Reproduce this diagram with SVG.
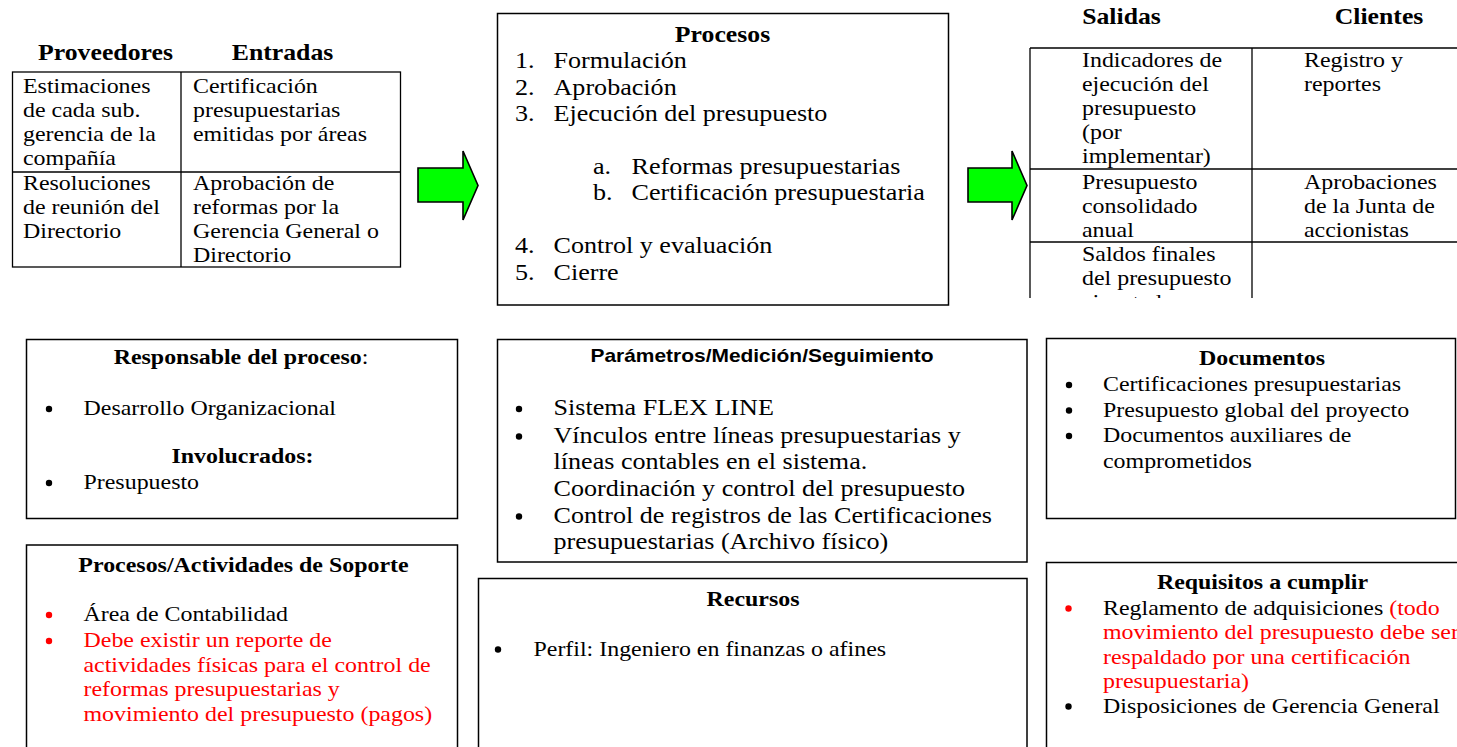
<svg xmlns="http://www.w3.org/2000/svg" width="1457" height="747" viewBox="0 0 1457 747">
  <defs>
    <style>
      text { font-family: "Liberation Serif", "Times New Roman", serif; fill: #000; font-size: 20.8px; }
      .big { font-size: 22.7px; }
      .hd { font-weight: bold; font-size: 22.4px; text-anchor: middle; }
      .hd2 { font-weight: bold; font-size: 20.8px; text-anchor: middle; }
      .sans { font-family: "Liberation Sans", Arial, sans-serif; font-weight: bold; font-size: 18.2px; text-anchor: middle; }
      .red { fill: #ff0000; }
      .norm { font-weight: normal; }
      .box { fill: #fff; stroke: #000; stroke-width: 1.5; }
      .grid { fill: none; stroke: #000; stroke-width: 1.3; }
      .arrow { fill: #00ff00; stroke: #000; stroke-width: 1.6; stroke-linejoin: miter; }
      .dot { fill: #000; }
      .dot.red { fill: #ff0000; }
    </style>
    <clipPath id="outClip">
      <rect x="1000" y="0" width="457" height="298"/>
    </clipPath>
  </defs>

  <rect x="0" y="0" width="1457" height="747" fill="#fff"/>

  <!-- Suppliers and inputs table -->
  <g id="proveedores-entradas">
    <text class="hd" transform="translate(105.5 60) scale(1.15 1)">Proveedores</text>
    <text class="hd" transform="translate(282.5 60) scale(1.15 1)">Entradas</text>
    <rect class="grid" x="12.5" y="72" width="388" height="195"/>
    <line class="grid" x1="181" y1="72" x2="181" y2="267"/>
    <line class="grid" x1="12.5" y1="172" x2="400.5" y2="172"/>
    <text transform="translate(23 93) scale(1.15 1)">Estimaciones</text>
    <text transform="translate(23 117) scale(1.15 1)">de cada sub.</text>
    <text transform="translate(23 141) scale(1.15 1)">gerencia de la</text>
    <text transform="translate(23 165) scale(1.15 1)">compañía</text>
    <text transform="translate(193 93) scale(1.15 1)">Certificación</text>
    <text transform="translate(193 117) scale(1.15 1)">presupuestarias</text>
    <text transform="translate(193 141) scale(1.15 1)">emitidas por áreas</text>
    <text transform="translate(23 190) scale(1.15 1)">Resoluciones</text>
    <text transform="translate(23 214) scale(1.15 1)">de reunión del</text>
    <text transform="translate(23 238) scale(1.15 1)">Directorio</text>
    <text transform="translate(193 190) scale(1.15 1)">Aprobación de</text>
    <text transform="translate(193 214) scale(1.15 1)">reformas por la</text>
    <text transform="translate(193 238) scale(1.15 1)">Gerencia General o</text>
    <text transform="translate(193 262) scale(1.15 1)">Directorio</text>
  </g>

  <!-- Process steps -->
  <g id="procesos">
    <rect class="box" x="497.5" y="13.5" width="451" height="291.5"/>
    <text class="hd" transform="translate(722.5 42) scale(1.15 1)">Procesos</text>
    <text class="big" transform="translate(515 68) scale(1.15 1)">1.</text>
    <text class="big" transform="translate(553.5 68) scale(1.15 1)">Formulación</text>
    <text class="big" transform="translate(515 94.5) scale(1.15 1)">2.</text>
    <text class="big" transform="translate(553.5 94.5) scale(1.15 1)">Aprobación</text>
    <text class="big" transform="translate(515 120.5) scale(1.15 1)">3.</text>
    <text class="big" transform="translate(553.5 120.5) scale(1.15 1)">Ejecución del presupuesto</text>
    <text class="big" transform="translate(593 173.5) scale(1.15 1)">a.</text>
    <text class="big" transform="translate(631.5 173.5) scale(1.15 1)">Reformas presupuestarias</text>
    <text class="big" transform="translate(593 200) scale(1.15 1)">b.</text>
    <text class="big" transform="translate(631.5 200) scale(1.15 1)">Certificación presupuestaria</text>
    <text class="big" transform="translate(515 253) scale(1.15 1)">4.</text>
    <text class="big" transform="translate(553.5 253) scale(1.15 1)">Control y evaluación</text>
    <text class="big" transform="translate(515 279.5) scale(1.15 1)">5.</text>
    <text class="big" transform="translate(553.5 279.5) scale(1.15 1)">Cierre</text>
  </g>

  <!-- Outputs and customers table -->
  <g id="salidas-clientes">
    <text class="hd" transform="translate(1121.5 24) scale(1.15 1)">Salidas</text>
    <text class="hd" transform="translate(1379 24) scale(1.15 1)">Clientes</text>
    <g clip-path="url(#outClip)">
      <line class="grid" x1="1030" y1="48" x2="1457" y2="48"/>
      <line class="grid" x1="1030" y1="48" x2="1030" y2="300"/>
      <line class="grid" x1="1252" y1="48" x2="1252" y2="300"/>
      <line class="grid" x1="1030" y1="169" x2="1457" y2="169"/>
      <line class="grid" x1="1030" y1="242" x2="1457" y2="242"/>
      <text transform="translate(1082 67) scale(1.15 1)">Indicadores de</text>
      <text transform="translate(1082 91) scale(1.15 1)">ejecución del</text>
      <text transform="translate(1082 115) scale(1.15 1)">presupuesto</text>
      <text transform="translate(1082 139) scale(1.15 1)">(por</text>
      <text transform="translate(1082 163) scale(1.15 1)">implementar)</text>
      <text transform="translate(1082 189) scale(1.15 1)">Presupuesto</text>
      <text transform="translate(1082 213) scale(1.15 1)">consolidado</text>
      <text transform="translate(1082 237) scale(1.15 1)">anual</text>
      <text transform="translate(1082 261) scale(1.15 1)">Saldos finales</text>
      <text transform="translate(1082 285) scale(1.15 1)">del presupuesto</text>
      <text transform="translate(1082 309) scale(1.15 1)">ejecutado</text>
      <text transform="translate(1304 67) scale(1.15 1)">Registro y</text>
      <text transform="translate(1304 91) scale(1.15 1)">reportes</text>
      <text transform="translate(1304 189) scale(1.15 1)">Aprobaciones</text>
      <text transform="translate(1304 213) scale(1.15 1)">de la Junta de</text>
      <text transform="translate(1304 237) scale(1.15 1)">accionistas</text>
    </g>
  </g>

  <!-- Flow arrows -->
  <g id="connectors">
    <polygon class="arrow" points="418,168 463,168 463,151 478,185.5 463,220 463,202 418,202"/>
    <polygon class="arrow" points="968,168 1012,168 1012,151 1027,185.5 1012,220 1012,202 968,202"/>
  </g>

  <!-- Process owner -->
  <g id="responsable">
    <rect class="box" x="26.5" y="339.5" width="431" height="179"/>
    <text class="hd2" transform="translate(241 364) scale(1.15 1)">Responsable del proceso<tspan class="norm">:</tspan></text>
    <circle class="dot" cx="49" cy="409" r="3.2"/>
    <text transform="translate(83.5 415) scale(1.15 1)">Desarrollo Organizacional</text>
    <text class="hd2" transform="translate(242.5 463) scale(1.15 1)">Involucrados:</text>
    <circle class="dot" cx="49" cy="483" r="3.2"/>
    <text transform="translate(83.5 489) scale(1.15 1)">Presupuesto</text>
  </g>

  <!-- Parameters / measurement -->
  <g id="parametros">
    <rect class="box" x="497.5" y="339.5" width="529.5" height="222.5"/>
    <text class="sans" transform="translate(762 362) scale(1.15 1)">Parámetros/Medición/Seguimiento</text>
    <circle class="dot" cx="519" cy="409" r="3.2"/>
    <text class="big" transform="translate(553.5 415) scale(1.15 1)">Sistema FLEX LINE</text>
    <circle class="dot" cx="519" cy="436.5" r="3.2"/>
    <text class="big" transform="translate(553.5 442.5) scale(1.15 1)">Vínculos entre líneas presupuestarias y</text>
    <text class="big" transform="translate(553.5 469) scale(1.15 1)">líneas contables en el sistema.</text>
    <text class="big" transform="translate(553.5 495.5) scale(1.15 1)">Coordinación y control del presupuesto</text>
    <circle class="dot" cx="519" cy="516.5" r="3.2"/>
    <text class="big" transform="translate(553.5 522.5) scale(1.15 1)">Control de registros de las Certificaciones</text>
    <text class="big" transform="translate(553.5 549) scale(1.15 1)">presupuestarias (Archivo físico)</text>
  </g>

  <!-- Documents -->
  <g id="documentos">
    <rect class="box" x="1046.5" y="338.5" width="409" height="180"/>
    <text class="hd2" transform="translate(1262 365) scale(1.15 1)">Documentos</text>
    <circle class="dot" cx="1069" cy="385" r="3.2"/>
    <text transform="translate(1103 391) scale(1.15 1)">Certificaciones presupuestarias</text>
    <circle class="dot" cx="1069" cy="410.5" r="3.2"/>
    <text transform="translate(1103 416.5) scale(1.15 1)">Presupuesto global del proyecto</text>
    <circle class="dot" cx="1069" cy="436" r="3.2"/>
    <text transform="translate(1103 442) scale(1.15 1)">Documentos auxiliares de</text>
    <text transform="translate(1103 467.5) scale(1.15 1)">comprometidos</text>
  </g>

  <!-- Support processes -->
  <g id="soporte">
    <rect class="box" x="26.5" y="545" width="431" height="230"/>
    <text class="hd2" transform="translate(243.5 571.5) scale(1.15 1)">Procesos/Actividades de Soporte</text>
    <circle class="dot red" cx="49" cy="615" r="3.2"/>
    <text transform="translate(83.5 621) scale(1.15 1)">Área de Contabilidad</text>
    <circle class="dot red" cx="49" cy="641" r="3.2"/>
    <text class="red" transform="translate(83.5 647) scale(1.15 1)">Debe existir un reporte de</text>
    <text class="red" transform="translate(83.5 671.5) scale(1.15 1)">actividades físicas para el control de</text>
    <text class="red" transform="translate(83.5 696) scale(1.15 1)">reformas presupuestarias y</text>
    <text class="red" transform="translate(83.5 720.5) scale(1.15 1)">movimiento del presupuesto (pagos)</text>
  </g>

  <!-- Resources -->
  <g id="recursos">
    <rect class="box" x="478.5" y="578.5" width="548.5" height="200"/>
    <text class="hd2" transform="translate(753 606) scale(1.15 1)">Recursos</text>
    <circle class="dot" cx="498" cy="649.5" r="3.2"/>
    <text transform="translate(533.5 655.5) scale(1.15 1)">Perfil: Ingeniero en finanzas o afines</text>
  </g>

  <!-- Requirements -->
  <g id="requisitos">
    <rect class="box" x="1046.5" y="562.5" width="430" height="200"/>
    <text class="hd2" transform="translate(1262.5 588.5) scale(1.15 1)">Requisitos a cumplir</text>
    <circle class="dot red" cx="1068.5" cy="608.5" r="3.2"/>
    <text transform="translate(1103 614.5) scale(1.15 1)">Reglamento de adquisiciones <tspan class="red">(todo</tspan></text>
    <text class="red" transform="translate(1103 639) scale(1.15 1)">movimiento del presupuesto debe ser</text>
    <text class="red" transform="translate(1103 663.5) scale(1.15 1)">respaldado por una certificación</text>
    <text class="red" transform="translate(1103 688) scale(1.15 1)">presupuestaria)</text>
    <circle class="dot" cx="1068.5" cy="706.5" r="3.2"/>
    <text transform="translate(1103 712.5) scale(1.15 1)">Disposiciones de Gerencia General</text>
  </g>
</svg>
